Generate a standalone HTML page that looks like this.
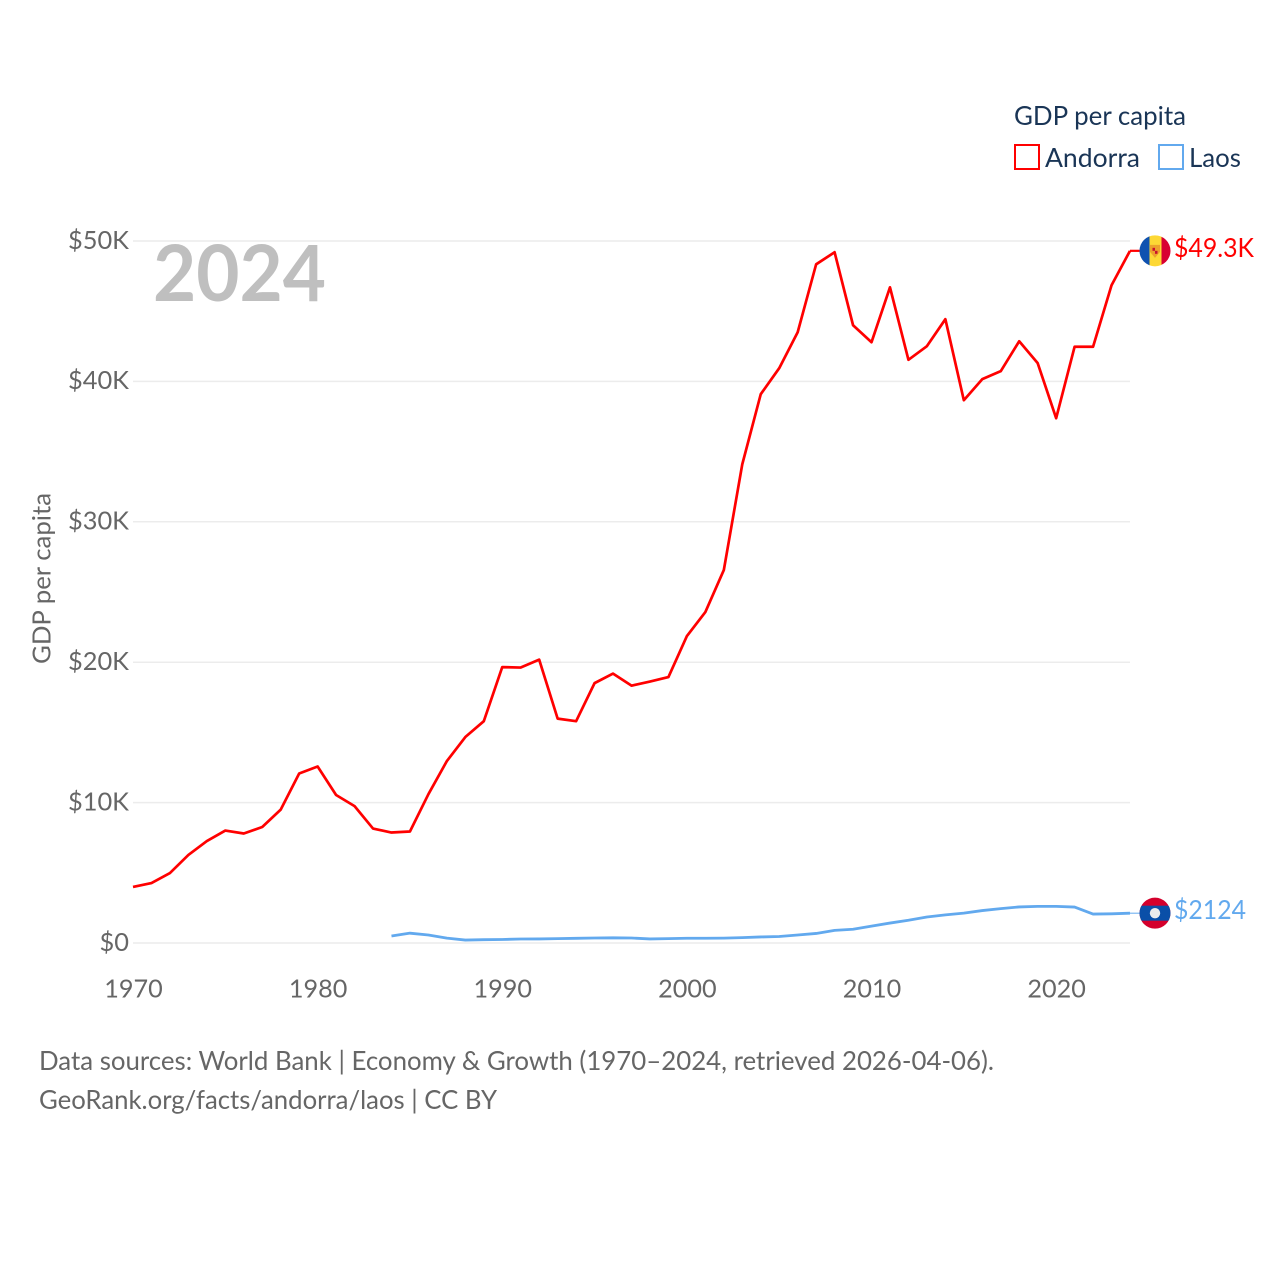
<!DOCTYPE html>
<html lang="en">
<head>
<meta charset="utf-8">
<title>GDP per capita: Andorra and Laos</title>
<style>
html,body{margin:0;padding:0;background:#fff}
svg{display:block}
text{font-family:"Lato","Carlito","Liberation Sans",sans-serif}
</style>
</head>
<body>
<svg id="chart" xmlns="http://www.w3.org/2000/svg" width="1280" height="1280" viewBox="0 0 1280 1280">
  <rect x="0" y="0" width="1280" height="1280" fill="#ffffff"/>
  <g id="grid"></g>
  <text x="153" y="301" font-size="78" font-weight="700" fill="#bfbfbf" textLength="173" lengthAdjust="spacingAndGlyphs">2024</text>
  <g id="yticks"></g>
  <g id="xticks"></g>
  <text transform="translate(50.5,664) rotate(-90)" font-size="25" fill="#666666" textLength="171" lengthAdjust="spacingAndGlyphs">GDP per capita</text>
  <g id="series"></g>
  <g id="endpoints"></g>

  <g>
    <text x="1014" y="125" font-size="26" fill="#1a3556" textLength="172" lengthAdjust="spacingAndGlyphs">GDP per capita</text>
    <g>
      <rect x="1015" y="145" width="24" height="24" fill="none" stroke="#ff0000" stroke-width="2"/>
      <text x="1045" y="167" font-size="26" fill="#1a3556" textLength="95" lengthAdjust="spacingAndGlyphs">Andorra</text>
    </g>
    <g>
      <rect x="1159" y="145" width="24" height="24" fill="none" stroke="#62a9ee" stroke-width="2"/>
      <text x="1189" y="167" font-size="26" fill="#1a3556" textLength="52" lengthAdjust="spacingAndGlyphs">Laos</text>
    </g>
  </g>

  <g>
    <text x="39" y="1070" font-size="26" fill="#666666" textLength="955" lengthAdjust="spacingAndGlyphs">Data sources: World Bank | Economy &amp; Growth (1970–2024, retrieved 2026-04-06).</text>
    <text x="39" y="1109" font-size="26" fill="#666666" textLength="458" lengthAdjust="spacingAndGlyphs">GeoRank.org/facts/andorra/laos | CC BY</text>
  </g>
</svg>
<script>
const andorraStartYear = 1970;
const andorraValues = [3990,4270,4980,6270,7260,8010,7800,8260,9500,12070,12570,10540,9750,8150,7870,7940,10600,12960,14670,15800,19650,19620,20180,15980,15800,18510,19190,18330,18620,18940,21860,23570,26560,34100,39090,40940,43500,48340,49200,44000,42790,46700,41540,42510,44430,38660,40160,40730,42860,41300,37380,42470,42470,46850,49300];
const laosStartYear = 1984;
const laosValues = [500,700,570,350,210,235,250,285,290,310,335,355,370,355,290,310,340,340,350,385,430,465,570,680,900,980,1200,1420,1620,1850,2000,2130,2310,2450,2570,2610,2610,2560,2060,2080,2124];
const yTickValues = [0,10000,20000,30000,40000,50000];
const yTickLabels = ['$0','$10K','$20K','$30K','$40K','$50K'];
const xTickValues = [1970,1980,1990,2000,2010,2020];
const xTickLabels = ['1970','1980','1990','2000','2010','2020'];
const andorraEndLabel = '$49.3K';
const laosEndLabel = '$2124';

const NS = 'http://www.w3.org/2000/svg';
const xScale = function (year) { return 133 + (year - 1970) * (1130 - 133) / 54; };
const yScale = function (value) { return 943 - value * (943 - 241) / 50000; };

function make(tag, parent, attrs, content) {
  const el = document.createElementNS(NS, tag);
  Object.keys(attrs).forEach(function (k) { el.setAttribute(k, attrs[k]); });
  if (content !== undefined) { el.textContent = content; }
  parent.appendChild(el);
  return el;
}

const gridGroup = document.getElementById('grid');
const yTickGroup = document.getElementById('yticks');
yTickValues.forEach(function (v, i) {
  const line = make('line', gridGroup, {x1: 133, x2: 1130, y1: yScale(v), y2: yScale(v), stroke: '#ececec', 'stroke-width': 1.5});
  
  
  const label = make('text', yTickGroup, {x: 129, y: yScale(v) + 7.8, 'text-anchor': 'end', 'font-size': 25.4, fill: '#666666'}, yTickLabels[i]);
  
  
});

const xTickGroup = document.getElementById('xticks');
xTickValues.forEach(function (year, i) {
  const label = make('text', xTickGroup, {x: xScale(year) + 0.5, y: 997.6, 'text-anchor': 'middle', 'font-size': 25.2, fill: '#666666'}, xTickLabels[i]);
  
  
});

function linePath(startYear, values) {
  return values.map(function (v, i) {
    return (i ? 'L' : 'M') + xScale(startYear + i).toFixed(2) + ' ' + yScale(v).toFixed(2);
  }).join(' ');
}

const seriesGroup = document.getElementById('series');
const laosLine = make('path', seriesGroup, {d: linePath(laosStartYear, laosValues), fill: 'none', stroke: '#62a9ee', 'stroke-width': 2.8, 'stroke-linejoin': 'round'});


const andorraLine = make('path', seriesGroup, {d: linePath(andorraStartYear, andorraValues), fill: 'none', stroke: '#ff0000', 'stroke-width': 2.7, 'stroke-linejoin': 'round'});



const endGroup = document.getElementById('endpoints');
const lastAndorra = andorraValues[andorraValues.length - 1];
const lastLaos = laosValues[laosValues.length - 1];
const flagX = 1155;
const flagR = 15.5;

const andorraY = yScale(lastAndorra);
const laosY = yScale(lastLaos);

const connA = make('line', endGroup, {x1: 1130, x2: flagX - flagR, y1: andorraY, y2: andorraY, stroke: '#ff0000', 'stroke-width': 2.2});


const connL = make('line', endGroup, {x1: 1130, x2: flagX - flagR, y1: laosY, y2: laosY, stroke: '#62a9ee', 'stroke-width': 1});



const defs = make('defs', endGroup, {});
const clipA = make('clipPath', defs, {id: 'clip-andorra'});
make('circle', clipA, {cx: flagX, cy: andorraY, r: flagR});
const clipL = make('clipPath', defs, {id: 'clip-laos'});
make('circle', clipL, {cx: flagX, cy: laosY, r: flagR});

const flagA = make('g', endGroup, {'clip-path': 'url(#clip-andorra)'});


make('rect', flagA, {x: flagX - 16, y: andorraY - 16, width: 10.5, height: 32, fill: '#0f52b0'});
make('rect', flagA, {x: flagX - 5.5, y: andorraY - 16, width: 12, height: 32, fill: '#fdd835'});
make('rect', flagA, {x: flagX + 6.5, y: andorraY - 16, width: 10, height: 32, fill: '#d80032'});
make('path', flagA, {d: 'M' + (flagX - 5) + ' ' + (andorraY - 6) + 'h10v7l-5 6l-5-6z', fill: '#eda12c'});
make('rect', flagA, {x: flagX - 2.5, y: andorraY - 3, width: 2.5, height: 3, fill: '#c8102e'});
make('rect', flagA, {x: flagX, y: andorraY, width: 2.5, height: 3, fill: '#c8102e'});

const flagL = make('g', endGroup, {'clip-path': 'url(#clip-laos)'});


make('rect', flagL, {x: flagX - 16, y: laosY - 16, width: 32, height: 32, fill: '#d4002c'});
make('rect', flagL, {x: flagX - 16, y: laosY - 7.5, width: 32, height: 15, fill: '#0a4fa8'});
make('circle', flagL, {cx: flagX, cy: laosY, r: 5.2, fill: '#ececec'});

const valueA = make('text', endGroup, {x: 1174, y: andorraY + 6, 'font-size': 26, fill: '#ff0000', textLength: 80, lengthAdjust: 'spacingAndGlyphs'}, andorraEndLabel);


const valueL = make('text', endGroup, {x: 1174, y: laosY + 6, 'font-size': 26, fill: '#62a9ee', textLength: 72, lengthAdjust: 'spacingAndGlyphs'}, laosEndLabel);


</script>
</body>
</html>
